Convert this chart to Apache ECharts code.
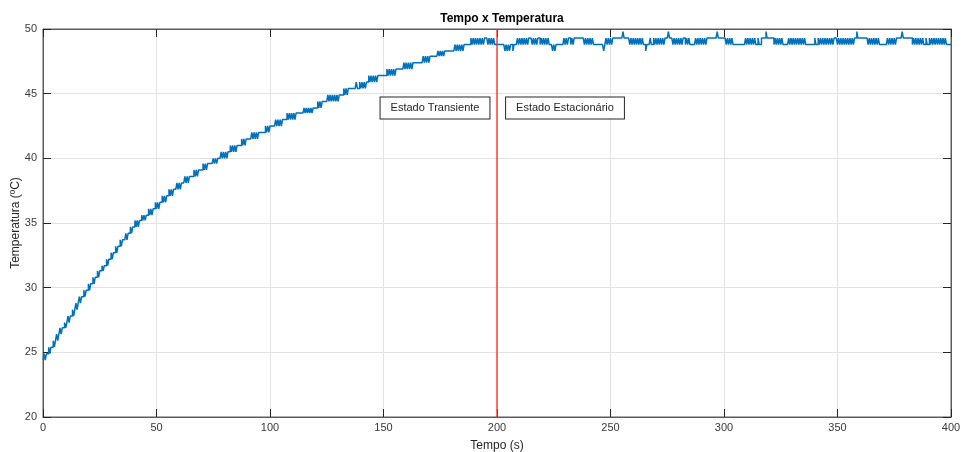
<!DOCTYPE html>
<html>
<head>
<meta charset="utf-8">
<title>Tempo x Temperatura</title>
<script src="https://cdn.jsdelivr.net/npm/echarts@6/dist/echarts.min.js"></script>
<style>
  html, body { margin: 0; padding: 0; background: #ffffff; }
  #chart { width: 962px; height: 452px; }
</style>
</head>
<body>
<div id="chart"></div>
<script>
// Temperature log (°C), one sample every half second, split in 50 s blocks.
const SAMPLE_PERIOD = 0.5;

const temp_000_050 = [
  24.4, 24.9, 24.4, 24.9, 24.9, 25.4, 24.9, 25.4, 25.4, 25.9,
  25.4, 25.9, 26.4, 25.9, 26.4, 26.9, 26.4, 26.9, 26.9, 27.3,
  26.9, 27.3, 27.8, 27.3, 27.8, 27.8, 28.3, 27.8, 28.3, 28.8,
  28.3, 28.8, 29.3, 28.8, 29.3, 29.3, 29.8, 29.3, 29.8, 29.8,
  30.3, 29.8, 30.3, 30.3, 30.8, 30.3, 30.8, 30.8, 31.3, 30.8,
  31.3, 31.3, 31.7, 31.3, 31.7, 31.7, 32.2, 31.7, 32.2, 32.2,
  32.7, 32.2, 32.7, 32.7, 33.2, 32.7, 33.2, 33.2, 33.7, 33.2,
  33.7, 33.7, 33.7, 34.2, 33.7, 34.2, 34.2, 34.7, 34.2, 34.7,
  34.7, 35.2, 34.7, 35.2, 34.7, 35.2, 35.2, 35.6, 35.2, 35.6,
  35.2, 35.6, 35.6, 36.1, 35.6, 36.1, 35.6, 36.1, 36.1, 36.6
];

const temp_050_100 = [
  36.1, 36.6, 36.1, 36.6, 36.6, 37.1, 36.6, 37.1, 36.6, 37.1,
  37.1, 37.6, 37.1, 37.6, 37.1, 37.6, 37.6, 37.6, 38.1, 37.6,
  38.1, 37.6, 38.1, 38.1, 38.1, 38.6, 38.1, 38.6, 38.1, 38.6,
  38.6, 38.6, 38.6, 39.1, 38.6, 39.1, 38.6, 39.1, 39.1, 39.1,
  39.1, 39.6, 39.1, 39.6, 39.1, 39.6, 39.6, 39.6, 39.6, 39.6,
  40.0, 39.6, 40.0, 39.6, 40.0, 40.0, 40.0, 40.5, 40.0, 40.5,
  40.0, 40.5, 40.0, 40.5, 40.5, 41.0, 40.5, 41.0, 40.5, 41.0,
  40.5, 41.0, 41.0, 41.0, 41.0, 41.5, 41.0, 41.5, 41.0, 41.5,
  41.5, 41.5, 41.5, 41.5, 42.0, 41.5, 42.0, 41.5, 42.0, 41.5,
  42.0, 42.0, 42.0, 42.0, 42.0, 42.0, 42.5, 42.0, 42.5, 42.0
];

const temp_100_150 = [
  42.5, 42.5, 42.5, 42.5, 42.5, 43.0, 42.5, 43.0, 42.5, 43.0,
  42.5, 43.0, 43.0, 43.0, 43.0, 43.5, 43.0, 43.5, 43.0, 43.5,
  43.0, 43.5, 43.0, 43.5, 43.5, 43.5, 43.5, 43.5, 43.5, 43.5,
  43.9, 43.5, 43.9, 43.5, 43.9, 43.5, 43.9, 43.5, 43.9, 43.9,
  43.9, 43.9, 44.4, 43.9, 44.4, 43.9, 44.4, 44.4, 44.4, 44.4,
  44.4, 44.9, 44.4, 44.9, 44.4, 44.9, 44.4, 44.9, 44.4, 44.9,
  44.4, 44.9, 44.9, 44.9, 44.9, 45.4, 44.9, 45.4, 44.9, 45.4,
  45.4, 45.4, 45.4, 45.4, 45.4, 45.4, 45.9, 45.4, 45.4, 45.9,
  45.4, 45.9, 45.4, 45.9, 45.4, 45.9, 45.9, 46.4, 45.9, 46.4,
  45.9, 46.4, 45.9, 46.4, 45.9, 46.4, 46.4, 46.4, 46.4, 46.4
];

const temp_150_200 = [
  46.4, 46.4, 46.4, 46.9, 46.4, 46.9, 46.4, 46.9, 46.4, 46.9,
  46.4, 46.9, 46.9, 46.9, 46.9, 46.9, 46.9, 46.9, 47.4, 46.9,
  47.4, 46.9, 47.4, 46.9, 47.4, 46.9, 47.4, 47.4, 47.4, 47.4,
  47.4, 47.4, 47.4, 47.4, 47.4, 47.9, 47.4, 47.9, 47.4, 47.9,
  47.4, 47.9, 47.9, 47.9, 47.9, 47.9, 47.9, 47.9, 48.3, 47.9,
  48.3, 47.9, 48.3, 47.9, 48.3, 48.3, 48.3, 48.3, 48.3, 48.3,
  48.3, 48.3, 48.3, 48.8, 48.3, 48.8, 48.3, 48.8, 48.3, 48.8,
  48.3, 48.8, 48.8, 48.8, 48.8, 48.8, 48.8, 49.3, 48.8, 49.3,
  48.8, 49.3, 48.8, 49.3, 48.8, 49.3, 48.8, 49.3, 48.8, 49.3,
  49.3, 49.3, 48.8, 49.3, 48.8, 49.3, 48.8, 49.3, 48.8, 48.8
];

const temp_200_250 = [
  48.8, 48.8, 48.8, 48.8, 48.8, 48.8, 48.8, 48.3, 48.8, 48.3,
  48.8, 48.3, 48.8, 48.8, 48.3, 48.8, 48.8, 48.8, 49.3, 48.8,
  49.3, 48.8, 49.3, 48.8, 49.3, 48.8, 49.3, 48.8, 49.3, 49.3,
  49.3, 48.8, 49.3, 48.8, 49.3, 48.8, 49.3, 49.3, 48.8, 49.3,
  48.8, 49.3, 48.8, 49.3, 48.8, 49.3, 48.8, 48.8, 48.8, 48.3,
  48.8, 48.3, 48.8, 48.8, 48.8, 48.8, 48.8, 48.8, 48.8, 49.3,
  48.8, 49.3, 48.8, 49.3, 49.3, 48.8, 49.3, 48.8, 49.3, 49.3,
  49.3, 49.3, 49.3, 49.3, 49.3, 49.3, 49.3, 48.8, 49.3, 48.8,
  49.3, 48.8, 49.3, 48.8, 49.3, 48.8, 48.8, 48.8, 48.8, 48.8,
  48.8, 48.8, 48.8, 48.8, 48.3, 48.8, 49.3, 48.8, 49.3, 48.8
];

const temp_250_300 = [
  49.3, 48.8, 49.3, 49.3, 49.3, 49.3, 49.3, 49.3, 49.3, 49.3,
  49.3, 49.8, 49.3, 49.3, 49.3, 49.3, 49.3, 48.8, 49.3, 48.8,
  49.3, 48.8, 49.3, 48.8, 49.3, 48.8, 49.3, 48.8, 49.3, 48.8,
  48.8, 48.3, 48.8, 48.8, 48.8, 49.3, 48.8, 48.8, 49.3, 48.8,
  49.3, 48.8, 49.3, 48.8, 49.3, 48.8, 49.3, 48.8, 49.3, 49.3,
  49.3, 49.8, 49.3, 49.3, 49.3, 48.8, 49.3, 48.8, 49.3, 48.8,
  49.3, 48.8, 49.3, 48.8, 49.3, 49.3, 48.8, 49.3, 48.8, 49.3,
  48.8, 48.8, 48.8, 48.8, 48.8, 49.3, 48.8, 49.3, 48.8, 49.3,
  48.8, 49.3, 48.8, 49.3, 48.8, 49.3, 49.3, 49.3, 49.3, 49.3,
  49.3, 49.3, 49.3, 49.3, 49.8, 49.3, 49.3, 49.3, 49.3, 49.3
];

const temp_300_350 = [
  49.3, 49.3, 48.8, 49.3, 48.8, 49.3, 48.8, 49.3, 48.8, 48.8,
  48.8, 48.8, 48.8, 48.8, 48.8, 48.8, 48.8, 48.8, 48.8, 49.3,
  48.8, 49.3, 48.8, 49.3, 48.8, 49.3, 48.8, 49.3, 48.8, 48.8,
  49.3, 48.8, 48.8, 49.3, 49.3, 49.3, 49.3, 49.8, 49.3, 49.3,
  49.3, 49.3, 49.3, 49.3, 48.8, 49.3, 48.8, 49.3, 48.8, 49.3,
  48.8, 49.3, 48.8, 48.8, 48.8, 48.8, 48.8, 49.3, 48.8, 49.3,
  48.8, 49.3, 48.8, 49.3, 48.8, 49.3, 48.8, 49.3, 48.8, 49.3,
  48.8, 49.3, 48.8, 48.8, 48.8, 48.8, 48.8, 48.8, 48.8, 48.8,
  49.3, 48.8, 48.8, 49.3, 48.8, 49.3, 48.8, 49.3, 48.8, 49.3,
  48.8, 49.3, 48.8, 49.3, 48.8, 49.3, 48.8, 49.3, 49.3, 49.3
];

const temp_350_400 = [
  48.8, 49.3, 48.8, 49.3, 48.8, 49.3, 48.8, 49.3, 48.8, 49.3,
  48.8, 49.3, 48.8, 49.3, 48.8, 49.3, 49.3, 49.8, 49.3, 49.3,
  49.3, 49.3, 49.3, 49.3, 49.3, 49.3, 49.3, 48.8, 49.3, 48.8,
  49.3, 48.8, 49.3, 48.8, 49.3, 48.8, 49.3, 48.8, 48.8, 48.8,
  48.8, 48.8, 48.8, 48.8, 49.3, 48.8, 49.3, 48.8, 49.3, 48.8,
  49.3, 48.8, 49.3, 49.3, 49.3, 49.3, 49.3, 49.8, 49.3, 49.3,
  49.3, 49.3, 49.3, 49.3, 49.3, 49.3, 48.8, 49.3, 48.8, 49.3,
  48.8, 49.3, 48.8, 49.3, 48.8, 49.3, 48.8, 48.8, 49.3, 48.8,
  48.8, 49.3, 48.8, 49.3, 48.8, 49.3, 48.8, 49.3, 48.8, 49.3,
  48.8, 49.3, 48.8, 49.3, 48.8, 49.3, 48.8, 48.8, 48.8, 48.8,
  48.8
];

// Axis ticks
const xTicks = [0, 50, 100, 150, 200, 250, 300, 350, 400];
const yTicks = [20, 25, 30, 35, 40, 45, 50];

// Boundary between the two regimes, and the labels on each side of it
const regimeChangeTime = 200;
const regimeLabels = ['Estado Transiente', 'Estado Estacionário'];
const regimeLabelAnchors = [[172.7, 43.93], [230.0, 43.93]];

const temperatures = [].concat(
  temp_000_050, temp_050_100, temp_100_150, temp_150_200,
  temp_200_250, temp_250_300, temp_300_350, temp_350_400
);
const seriesData = temperatures.map((v, i) => [i * SAMPLE_PERIOD, v]);

const FONT = '"Liberation Sans", Arial, Helvetica, sans-serif';
const AXIS_COLOR = '#5c5c5c';
const TICK_COLOR = '#262626';
const LABEL_COLOR = '#3a3a3a';
const GRID_COLOR = '#e3e3e3';

const xRange = { min: xTicks[0], max: xTicks[xTicks.length - 1], interval: xTicks[1] - xTicks[0] };
const yRange = { min: yTicks[0], max: yTicks[yTicks.length - 1], interval: yTicks[1] - yTicks[0] };

function frameAxis(range, position) {
  return Object.assign({
    type: 'value',
    position: position,
    axisLine: { show: true, onZero: false, lineStyle: { color: AXIS_COLOR, width: 1 } },
    axisTick: { show: true, inside: true, length: 8, lineStyle: { color: TICK_COLOR, width: 1 } },
    axisLabel: { show: false },
    splitLine: { show: false }
  }, range);
}

const chart = echarts.init(document.getElementById('chart'), null, { renderer: 'canvas' });

chart.setOption({
  animation: false,
  backgroundColor: '#ffffff',
  textStyle: { fontFamily: FONT },
  title: {
    text: 'Tempo x Temperatura',
    left: 497,
    top: 8,
    textAlign: 'center',
    textStyle: { fontFamily: FONT, fontSize: 12, fontWeight: 'bold', color: '#000000' }
  },
  grid: {
    left: 43, right: 11, top: 29, bottom: 35,
    containLabel: false,
    outerBoundsMode: 'none',
    show: true, borderColor: AXIS_COLOR, borderWidth: 1, backgroundColor: '#ffffff'
  },
  xAxis: [
    Object.assign({
      type: 'value',
      position: 'bottom',
      name: 'Tempo (s)',
      nameLocation: 'middle',
      nameGap: 23,
      nameMoveOverlap: false,
      nameTextStyle: { fontFamily: FONT, fontSize: 12, color: '#262626' },
      axisLine: { show: true, onZero: false, lineStyle: { color: AXIS_COLOR, width: 1 } },
      axisTick: { show: true, inside: true, length: 8, lineStyle: { color: TICK_COLOR, width: 1 } },
      axisLabel: { show: true, color: LABEL_COLOR, fontSize: 11, fontFamily: FONT, margin: 5 },
      splitLine: { show: true, lineStyle: { color: GRID_COLOR, width: 1 } }
    }, xRange),
    frameAxis(xRange, 'top')
  ],
  yAxis: [
    Object.assign({
      type: 'value',
      position: 'left',
      name: 'Temperatura (ºC)',
      nameLocation: 'middle',
      nameGap: 21,
      nameRotate: 90,
      nameMoveOverlap: false,
      nameTextStyle: { fontFamily: FONT, fontSize: 12, color: '#262626' },
      axisLine: { show: true, onZero: false, lineStyle: { color: AXIS_COLOR, width: 1 } },
      axisTick: { show: true, inside: true, length: 8, lineStyle: { color: TICK_COLOR, width: 1 } },
      axisLabel: { show: true, color: LABEL_COLOR, fontSize: 11, fontFamily: FONT, margin: 6 },
      splitLine: { show: true, lineStyle: { color: GRID_COLOR, width: 1 } }
    }, yRange),
    frameAxis(yRange, 'right')
  ],
  series: [{
    type: 'line',
    xAxisIndex: 0,
    yAxisIndex: 0,
    data: seriesData,
    step: 'end',
    showSymbol: false,
    symbol: 'none',
    lineStyle: { color: '#0072BD', width: 1.5 },
    itemStyle: { color: '#0072BD' },
    silent: true,
    z: 3,
    markLine: {
      silent: true,
      symbol: ['none', 'none'],
      label: { show: false },
      lineStyle: { color: '#ff2b2b', width: 1.6, type: 'solid', opacity: 0.85 },
      data: [{ xAxis: regimeChangeTime }]
    }
  }]
});

// Boxed labels for the two regimes, anchored in data coordinates
const boxes = regimeLabels.map((label, i) => {
  const p = chart.convertToPixel({ gridIndex: 0 }, regimeLabelAnchors[i]);
  return {
    type: 'text',
    x: Math.round(p[0]),
    y: Math.round(p[1]),
    z: 10,
    style: {
      text: label,
      font: '11px ' + FONT,
      fill: '#262626',
      align: 'center',
      verticalAlign: 'middle',
      backgroundColor: '#ffffff',
      borderColor: '#262626',
      borderWidth: 1,
      padding: [5, 10, 5, 10]
    }
  };
});
chart.setOption({ graphic: boxes });
</script>
</body>
</html>
